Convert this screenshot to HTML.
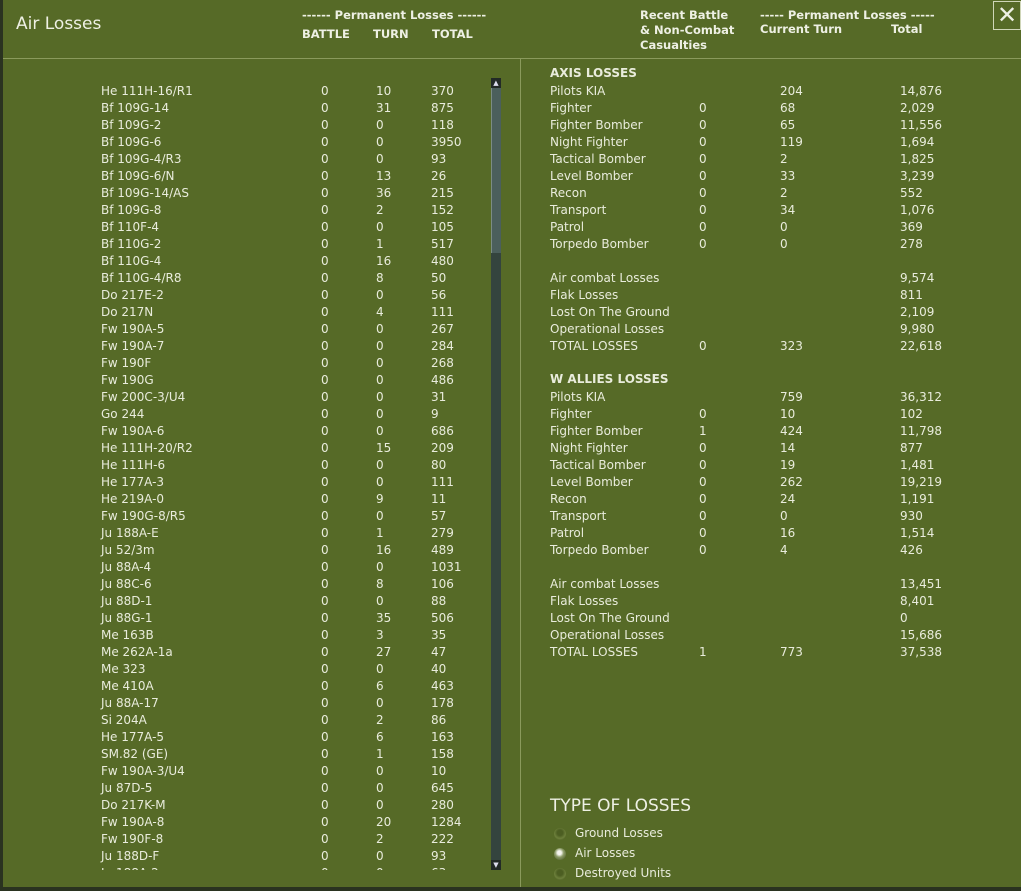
<!DOCTYPE html><html><head><meta charset="utf-8"><style>
*{margin:0;padding:0}
body{width:1021px;height:891px;background:#2a3320;position:relative;overflow:hidden;font-family:"DejaVu Sans","Liberation Sans",sans-serif;color:#e9ecdc}
#bg{position:absolute;left:3px;top:0;width:1018px;height:887px;background:#566a27}
.hd{position:absolute;font-weight:bold;font-size:11.5px;color:#eef0e4;white-space:nowrap}
.r{position:absolute;height:17px;line-height:17px;font-size:12px;white-space:nowrap;left:0;width:1021px}
.r span{position:absolute}
#list{position:absolute;left:0;top:83px;width:490px;height:787px;overflow:hidden}
.a{left:101px}.b{left:321px}.c{left:376px}.d{left:431px}
.e{left:550px}.f{left:699px}.g{left:780px}.h{left:900px}
.rad{position:absolute;left:554px;width:12px;height:12px;border-radius:50%;background:radial-gradient(circle at 50% 40%,#4c5e22 30%,#6c7f3a 60%,#3e4d1c 100%)}
</style></head><body>
<div id="bg"></div>
<div style="position:absolute;left:3px;top:58px;width:1018px;height:1px;background:#8a9a5c"></div>
<div style="position:absolute;left:520px;top:59px;width:1px;height:828px;background:#8a9a5c"></div>
<div style="position:absolute;left:16px;top:14px;font-size:17px;color:#eef0e4">Air Losses</div>
<div class="hd" style="left:302px;top:8px">------ Permanent Losses ------</div>
<div class="hd" style="left:302px;top:27px">BATTLE</div>
<div class="hd" style="left:373px;top:27px">TURN</div>
<div class="hd" style="left:432px;top:27px">TOTAL</div>
<div class="hd" style="left:640px;top:8px;line-height:15px">Recent Battle<br>&amp; Non-Combat<br>Casualties</div>
<div class="hd" style="left:760px;top:8px">----- Permanent Losses -----</div>
<div class="hd" style="left:760px;top:22px">Current Turn</div>
<div class="hd" style="left:891px;top:22px">Total</div>
<div style="position:absolute;left:993px;top:1px;width:26px;height:27px;border:1px solid #cfd6b8;color:#eef0e4;font-size:24px;line-height:26px;text-align:center">✕</div>
<div style="position:absolute;left:491px;top:78px;width:10px;height:792px;background:#34443e"></div>
<div style="position:absolute;left:491px;top:88px;width:10px;height:165px;background:#4b5f5c;border-left:1px solid #7b8c84;box-sizing:border-box"></div>
<div style="position:absolute;left:491px;top:78px;width:10px;height:10px;background:#222a26;color:#dde;font-size:7px;text-align:center;line-height:10px">▲</div>
<div style="position:absolute;left:491px;top:860px;width:10px;height:10px;background:#222a26;color:#dde;font-size:7px;text-align:center;line-height:10px">▼</div>
<div id="list">
<div class="r" style="top:0px"><span class="a">He 111H-16/R1</span><span class="b">0</span><span class="c">10</span><span class="d">370</span></div>
<div class="r" style="top:17px"><span class="a">Bf 109G-14</span><span class="b">0</span><span class="c">31</span><span class="d">875</span></div>
<div class="r" style="top:34px"><span class="a">Bf 109G-2</span><span class="b">0</span><span class="c">0</span><span class="d">118</span></div>
<div class="r" style="top:51px"><span class="a">Bf 109G-6</span><span class="b">0</span><span class="c">0</span><span class="d">3950</span></div>
<div class="r" style="top:68px"><span class="a">Bf 109G-4/R3</span><span class="b">0</span><span class="c">0</span><span class="d">93</span></div>
<div class="r" style="top:85px"><span class="a">Bf 109G-6/N</span><span class="b">0</span><span class="c">13</span><span class="d">26</span></div>
<div class="r" style="top:102px"><span class="a">Bf 109G-14/AS</span><span class="b">0</span><span class="c">36</span><span class="d">215</span></div>
<div class="r" style="top:119px"><span class="a">Bf 109G-8</span><span class="b">0</span><span class="c">2</span><span class="d">152</span></div>
<div class="r" style="top:136px"><span class="a">Bf 110F-4</span><span class="b">0</span><span class="c">0</span><span class="d">105</span></div>
<div class="r" style="top:153px"><span class="a">Bf 110G-2</span><span class="b">0</span><span class="c">1</span><span class="d">517</span></div>
<div class="r" style="top:170px"><span class="a">Bf 110G-4</span><span class="b">0</span><span class="c">16</span><span class="d">480</span></div>
<div class="r" style="top:187px"><span class="a">Bf 110G-4/R8</span><span class="b">0</span><span class="c">8</span><span class="d">50</span></div>
<div class="r" style="top:204px"><span class="a">Do 217E-2</span><span class="b">0</span><span class="c">0</span><span class="d">56</span></div>
<div class="r" style="top:221px"><span class="a">Do 217N</span><span class="b">0</span><span class="c">4</span><span class="d">111</span></div>
<div class="r" style="top:238px"><span class="a">Fw 190A-5</span><span class="b">0</span><span class="c">0</span><span class="d">267</span></div>
<div class="r" style="top:255px"><span class="a">Fw 190A-7</span><span class="b">0</span><span class="c">0</span><span class="d">284</span></div>
<div class="r" style="top:272px"><span class="a">Fw 190F</span><span class="b">0</span><span class="c">0</span><span class="d">268</span></div>
<div class="r" style="top:289px"><span class="a">Fw 190G</span><span class="b">0</span><span class="c">0</span><span class="d">486</span></div>
<div class="r" style="top:306px"><span class="a">Fw 200C-3/U4</span><span class="b">0</span><span class="c">0</span><span class="d">31</span></div>
<div class="r" style="top:323px"><span class="a">Go 244</span><span class="b">0</span><span class="c">0</span><span class="d">9</span></div>
<div class="r" style="top:340px"><span class="a">Fw 190A-6</span><span class="b">0</span><span class="c">0</span><span class="d">686</span></div>
<div class="r" style="top:357px"><span class="a">He 111H-20/R2</span><span class="b">0</span><span class="c">15</span><span class="d">209</span></div>
<div class="r" style="top:374px"><span class="a">He 111H-6</span><span class="b">0</span><span class="c">0</span><span class="d">80</span></div>
<div class="r" style="top:391px"><span class="a">He 177A-3</span><span class="b">0</span><span class="c">0</span><span class="d">111</span></div>
<div class="r" style="top:408px"><span class="a">He 219A-0</span><span class="b">0</span><span class="c">9</span><span class="d">11</span></div>
<div class="r" style="top:425px"><span class="a">Fw 190G-8/R5</span><span class="b">0</span><span class="c">0</span><span class="d">57</span></div>
<div class="r" style="top:442px"><span class="a">Ju 188A-E</span><span class="b">0</span><span class="c">1</span><span class="d">279</span></div>
<div class="r" style="top:459px"><span class="a">Ju 52/3m</span><span class="b">0</span><span class="c">16</span><span class="d">489</span></div>
<div class="r" style="top:476px"><span class="a">Ju 88A-4</span><span class="b">0</span><span class="c">0</span><span class="d">1031</span></div>
<div class="r" style="top:493px"><span class="a">Ju 88C-6</span><span class="b">0</span><span class="c">8</span><span class="d">106</span></div>
<div class="r" style="top:510px"><span class="a">Ju 88D-1</span><span class="b">0</span><span class="c">0</span><span class="d">88</span></div>
<div class="r" style="top:527px"><span class="a">Ju 88G-1</span><span class="b">0</span><span class="c">35</span><span class="d">506</span></div>
<div class="r" style="top:544px"><span class="a">Me 163B</span><span class="b">0</span><span class="c">3</span><span class="d">35</span></div>
<div class="r" style="top:561px"><span class="a">Me 262A-1a</span><span class="b">0</span><span class="c">27</span><span class="d">47</span></div>
<div class="r" style="top:578px"><span class="a">Me 323</span><span class="b">0</span><span class="c">0</span><span class="d">40</span></div>
<div class="r" style="top:595px"><span class="a">Me 410A</span><span class="b">0</span><span class="c">6</span><span class="d">463</span></div>
<div class="r" style="top:612px"><span class="a">Ju 88A-17</span><span class="b">0</span><span class="c">0</span><span class="d">178</span></div>
<div class="r" style="top:629px"><span class="a">Si 204A</span><span class="b">0</span><span class="c">2</span><span class="d">86</span></div>
<div class="r" style="top:646px"><span class="a">He 177A-5</span><span class="b">0</span><span class="c">6</span><span class="d">163</span></div>
<div class="r" style="top:663px"><span class="a">SM.82 (GE)</span><span class="b">0</span><span class="c">1</span><span class="d">158</span></div>
<div class="r" style="top:680px"><span class="a">Fw 190A-3/U4</span><span class="b">0</span><span class="c">0</span><span class="d">10</span></div>
<div class="r" style="top:697px"><span class="a">Ju 87D-5</span><span class="b">0</span><span class="c">0</span><span class="d">645</span></div>
<div class="r" style="top:714px"><span class="a">Do 217K-M</span><span class="b">0</span><span class="c">0</span><span class="d">280</span></div>
<div class="r" style="top:731px"><span class="a">Fw 190A-8</span><span class="b">0</span><span class="c">20</span><span class="d">1284</span></div>
<div class="r" style="top:748px"><span class="a">Fw 190F-8</span><span class="b">0</span><span class="c">2</span><span class="d">222</span></div>
<div class="r" style="top:765px"><span class="a">Ju 188D-F</span><span class="b">0</span><span class="c">0</span><span class="d">93</span></div>
<div class="r" style="top:782px"><span class="a">Ju 188A-2</span><span class="b">0</span><span class="c">0</span><span class="d">63</span></div>
</div>
<div class="r" style="top:65px"><span class="e" style="font-weight:bold;font-size:12px">AXIS LOSSES</span></div>
<div class="r" style="top:83px"><span class="e">Pilots KIA</span><span class="g">204</span><span class="h">14,876</span></div>
<div class="r" style="top:100px"><span class="e">Fighter</span><span class="f">0</span><span class="g">68</span><span class="h">2,029</span></div>
<div class="r" style="top:117px"><span class="e">Fighter Bomber</span><span class="f">0</span><span class="g">65</span><span class="h">11,556</span></div>
<div class="r" style="top:134px"><span class="e">Night Fighter</span><span class="f">0</span><span class="g">119</span><span class="h">1,694</span></div>
<div class="r" style="top:151px"><span class="e">Tactical Bomber</span><span class="f">0</span><span class="g">2</span><span class="h">1,825</span></div>
<div class="r" style="top:168px"><span class="e">Level Bomber</span><span class="f">0</span><span class="g">33</span><span class="h">3,239</span></div>
<div class="r" style="top:185px"><span class="e">Recon</span><span class="f">0</span><span class="g">2</span><span class="h">552</span></div>
<div class="r" style="top:202px"><span class="e">Transport</span><span class="f">0</span><span class="g">34</span><span class="h">1,076</span></div>
<div class="r" style="top:219px"><span class="e">Patrol</span><span class="f">0</span><span class="g">0</span><span class="h">369</span></div>
<div class="r" style="top:236px"><span class="e">Torpedo Bomber</span><span class="f">0</span><span class="g">0</span><span class="h">278</span></div>
<div class="r" style="top:270px"><span class="e">Air combat Losses</span><span class="h">9,574</span></div>
<div class="r" style="top:287px"><span class="e">Flak Losses</span><span class="h">811</span></div>
<div class="r" style="top:304px"><span class="e">Lost On The Ground</span><span class="h">2,109</span></div>
<div class="r" style="top:321px"><span class="e">Operational Losses</span><span class="h">9,980</span></div>
<div class="r" style="top:338px"><span class="e">TOTAL LOSSES</span><span class="f">0</span><span class="g">323</span><span class="h">22,618</span></div>
<div class="r" style="top:371px"><span class="e" style="font-weight:bold;font-size:12px">W ALLIES LOSSES</span></div>
<div class="r" style="top:389px"><span class="e">Pilots KIA</span><span class="g">759</span><span class="h">36,312</span></div>
<div class="r" style="top:406px"><span class="e">Fighter</span><span class="f">0</span><span class="g">10</span><span class="h">102</span></div>
<div class="r" style="top:423px"><span class="e">Fighter Bomber</span><span class="f">1</span><span class="g">424</span><span class="h">11,798</span></div>
<div class="r" style="top:440px"><span class="e">Night Fighter</span><span class="f">0</span><span class="g">14</span><span class="h">877</span></div>
<div class="r" style="top:457px"><span class="e">Tactical Bomber</span><span class="f">0</span><span class="g">19</span><span class="h">1,481</span></div>
<div class="r" style="top:474px"><span class="e">Level Bomber</span><span class="f">0</span><span class="g">262</span><span class="h">19,219</span></div>
<div class="r" style="top:491px"><span class="e">Recon</span><span class="f">0</span><span class="g">24</span><span class="h">1,191</span></div>
<div class="r" style="top:508px"><span class="e">Transport</span><span class="f">0</span><span class="g">0</span><span class="h">930</span></div>
<div class="r" style="top:525px"><span class="e">Patrol</span><span class="f">0</span><span class="g">16</span><span class="h">1,514</span></div>
<div class="r" style="top:542px"><span class="e">Torpedo Bomber</span><span class="f">0</span><span class="g">4</span><span class="h">426</span></div>
<div class="r" style="top:576px"><span class="e">Air combat Losses</span><span class="h">13,451</span></div>
<div class="r" style="top:593px"><span class="e">Flak Losses</span><span class="h">8,401</span></div>
<div class="r" style="top:610px"><span class="e">Lost On The Ground</span><span class="h">0</span></div>
<div class="r" style="top:627px"><span class="e">Operational Losses</span><span class="h">15,686</span></div>
<div class="r" style="top:644px"><span class="e">TOTAL LOSSES</span><span class="f">1</span><span class="g">773</span><span class="h">37,538</span></div>
<div style="position:absolute;left:550px;top:796px;font-size:17px;color:#eef0e4">TYPE OF LOSSES</div>
<div class="rad" style="top:828px"></div>
<div class="rad" style="top:848px;background:radial-gradient(circle at 45% 40%,#f4f4ee 20%,#8a9a66 45%,#3e4d1c 100%)"></div>
<div class="rad" style="top:868px"></div>
<div class="r" style="top:825px"><span style="left:575px">Ground Losses</span></div>
<div class="r" style="top:845px"><span style="left:575px">Air Losses</span></div>
<div class="r" style="top:865px"><span style="left:575px">Destroyed Units</span></div>
</body></html>
